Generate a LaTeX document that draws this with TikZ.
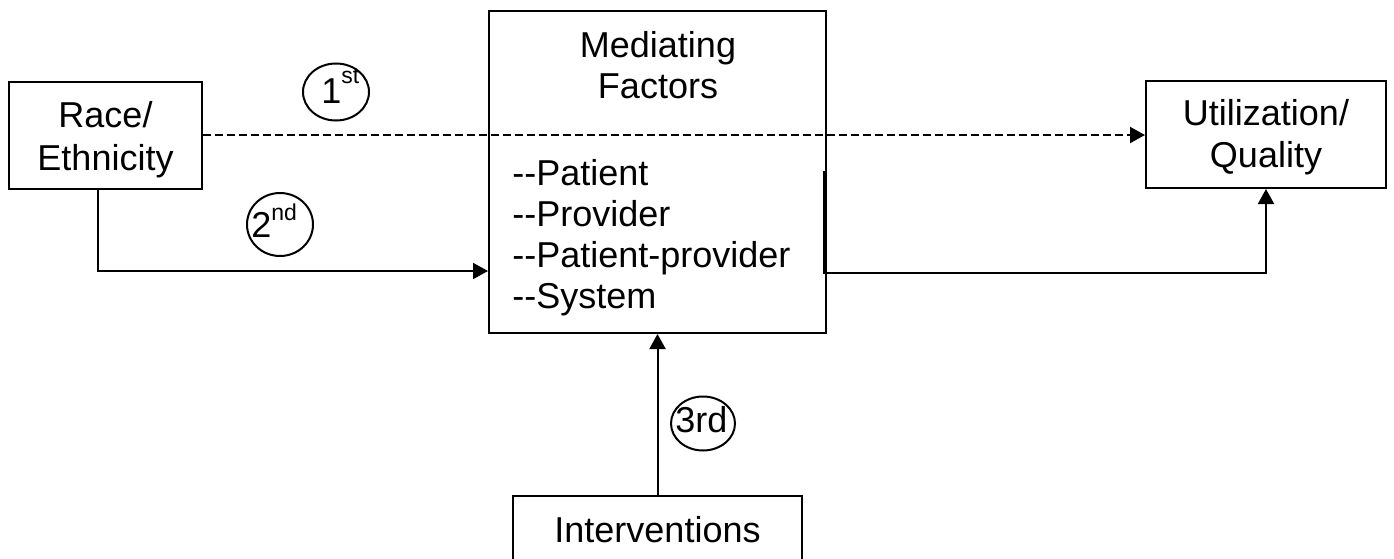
\documentclass[tikz,border=0pt]{standalone}
\usepackage{fontspec}
\setmainfont{Liberation Sans}
\usetikzlibrary{arrows.meta,shapes.geometric}
\newcommand\mysup[2]{\raisebox{#1}{\fontsize{11.5pt}{12pt}\selectfont #2}}
\begin{document}
\begin{tikzpicture}[x=0.5pt,y=-0.5pt,
  box/.style={draw, line width=1pt, inner sep=0pt},
  txt/.style={anchor=base, inner sep=0pt, font=\fontsize{18pt}{21pt}\selectfont},
  ltxt/.style={anchor=base west, inner sep=0pt, font=\fontsize{18pt}{21pt}\selectfont},
  conn/.style={line width=1pt, -{Triangle[length=7.5pt,width=8pt]}},
  badge/.style={draw, ellipse, line width=1pt, inner sep=0pt},
  btxt/.style={anchor=base west, inner sep=0pt, font=\fontsize{18pt}{21pt}\selectfont}]
\useasboundingbox (0,0) rectangle (1394,558);
\clip (0,0) rectangle (1394,558);
% boxes
\node[box, minimum width=96.5pt, minimum height=53.5pt] (race) at (105.5,135.5) {};
\node[box, minimum width=168.5pt, minimum height=161pt] (med) at (657.5,172) {};
\node[box, minimum width=120pt, minimum height=53.5pt] (util) at (1266,134.5) {};
\node[box, minimum width=144.5pt, minimum height=45pt] (interv) at (657.5,541) {};
% texts
\node[txt] (raceA) at (105.5,127) {Race/};
\node[txt] (raceB) at (105.5,170) {Ethnicity};
\node[txt] (medA) at (658,57) {Mediating};
\node[txt] (medB) at (658,98) {Factors};
\node[ltxt] (l1) at (512,185) {-{}-Patient};
\node[ltxt] (l2) at (512,226) {-{}-Provider};
\node[ltxt] (l3) at (512,267) {-{}-Patient-provider};
\node[ltxt] (l4) at (512,308) {-{}-System};
\node[txt] (utilA) at (1266,125) {Utilization/};
\node[txt] (utilB) at (1266,167) {Quality};
\node[txt] (intervT) at (657.5,542) {Interventions};
% badges
\node[badge, minimum width=33pt, minimum height=28.5pt] (c1) at (336,92) {};
\node[badge, minimum width=33pt, minimum height=31.5pt] (c2) at (280,224.5) {};
\node[badge, minimum width=32pt, minimum height=27pt] (c3) at (703,423.5) {};
\node[btxt] (c1t) at (321,103) {1\mysup{10pt}{st}};
\node[btxt] (c2t) at (251,237) {2\mysup{8.5pt}{nd}};
\node[btxt] (c3t) at (675,432) {3rd};
% connectors
\draw[conn, dash pattern=on 3.8pt off 2.2pt] (race.east |- 0,135) -- (util.west |- 0,135);
\draw[conn] (race.south -| 98,0) |- (med.west |- 0,271);
\coordinate (m3) at (824,171);
\draw[conn] (m3) -- (m3 |- 0,273) -| (util.south);
\draw[conn] (interv.north) -- (med.south);
\end{tikzpicture}
\end{document}
